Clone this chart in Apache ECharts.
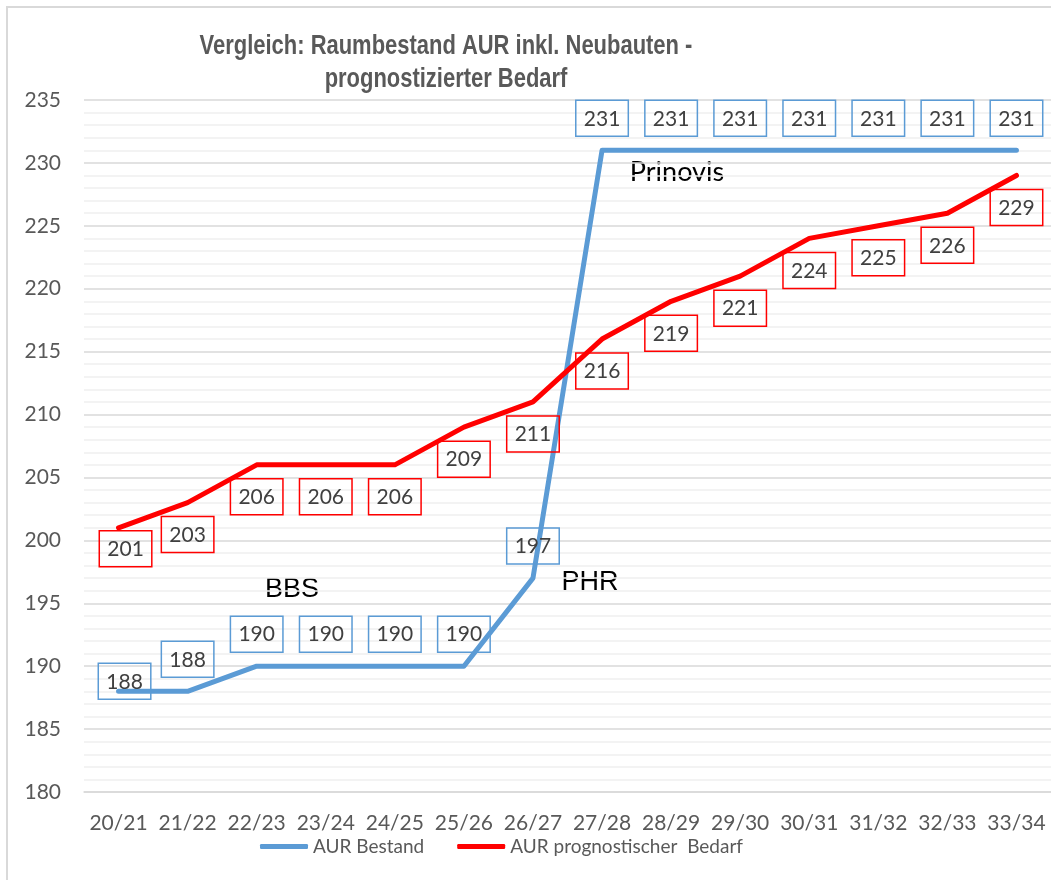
<!DOCTYPE html>
<html lang="de">
<head>
	<meta charset="UTF-8">
	<title>Raumbestand AUR</title>
	<style>
		html, body { margin: 0; padding: 0; background: #fff; }
		#main { width: 1051px; height: 880px; }
	</style>
</head>
<body>
	<div id="main"></div>
	<script src="https://cdn.jsdelivr.net/npm/echarts@6/dist/echarts.min.js"></script>
	<script>
		// Schuljahre
		var years = ['20/21', '21/22', '22/23', '23/24', '24/25', '25/26', '26/27',
			'27/28', '28/29', '29/30', '30/31', '31/32', '32/33', '33/34'];
		// Raumbestand inkl. Neubauten
		var bestand = [188, 188, 190, 190, 190, 190, 197, 231, 231, 231, 231, 231, 231, 231];
		// prognostizierter Bedarf
		var bedarf = [201, 203, 206, 206, 206, 209, 211, 216, 219, 221, 224, 225, 226, 229];
		var yTicks = [180, 185, 190, 195, 200, 205, 210, 215, 220, 225, 230, 235];

		var numFont = 'Lato, "Open Sans", sans-serif';

		var boxLabel = function (color, pos) {
			return {
				show: true,
				position: pos,
				distance: 14,
				color: '#404040',
				fontFamily: numFont,
				fontSize: 21,
				lineHeight: 25,
				padding: [6, 8, 5, 8],
				borderColor: color,
				borderWidth: 1.5
			};
		};

		// erste Beschriftungen wurden im Original von Hand verschoben
		var bestandData = bestand.map(function (v, i) {
			if (i === 0) return { value: v, label: { offset: [6, 22] } };
			return v;
		});
		var bedarfData = bedarf.map(function (v, i) {
			if (i === 0) return { value: v, label: { offset: [7, -11] } };
			return v;
		});

		var myChart = echarts.init(document.getElementById('main'));
		var option = {
			animation: false,
			grid: { left: 84, top: 100, width: 971, height: 692 },
			legend: {
				left: 255,
				top: 832,
				itemWidth: 48,
				itemHeight: 5,
				itemGap: 33,
				icon: 'roundRect',
				textStyle: { color: '#595959', fontFamily: numFont, fontSize: 19 },
				data: ['AUR Bestand', 'AUR prognostischer  Bedarf']
			},
			xAxis: {
				type: 'category',
				data: years,
				axisLine: { lineStyle: { color: '#d9d9d9', width: 1.5 } },
				axisTick: { show: false },
				axisLabel: { interval: 0, color: '#595959', fontFamily: numFont, fontSize: 21, margin: 21 }
			},
			yAxis: {
				type: 'value',
				min: yTicks[0],
				max: yTicks[yTicks.length - 1],
				interval: 5,
				axisLine: { show: false },
				axisTick: { show: false },
				axisLabel: { color: '#595959', fontFamily: numFont, fontSize: 21, margin: 23 },
				splitLine: { lineStyle: { color: '#d9d9d9', width: 1.5 } },
				minorTick: { show: false, splitNumber: 5 },
				minorSplitLine: { show: true, lineStyle: { color: '#f0f0f0', width: 1.5 } }
			},
			series: [
				{
					name: 'AUR Bestand',
					type: 'line',
					data: bestandData,
					symbol: 'circle',
					symbolSize: 0,
					color: '#5b9bd5',
					lineStyle: { width: 5, cap: 'round', join: 'round' },
					label: boxLabel('#5b9bd5', 'top')
				},
				{
					name: 'AUR prognostischer  Bedarf',
					type: 'line',
					data: bedarfData,
					symbol: 'circle',
					symbolSize: 0,
					color: '#ff0000',
					lineStyle: { width: 5, cap: 'round', join: 'round' },
					label: boxLabel('#ff0000', 'bottom')
				}
			],
			graphic: [
				{
					type: 'rect',
					silent: true,
					shape: { x: 7, y: 7, width: 1100, height: 1000 },
					style: { fill: 'none', stroke: '#d9d9d9', lineWidth: 2 }
				},
				{
					type: 'text',
					x: 446, y: 30,
					scaleX: 0.813,
					style: {
						text: 'Vergleich: Raumbestand AUR inkl. Neubauten -\nprognostizierter Bedarf',
						align: 'center',
						fill: '#595959',
						font: 'bold 27px "Liberation Sans", Arial, sans-serif',
						lineHeight: 33
					}
				},
				{
					type: 'text', x: 292, y: 590,
					style: { text: 'BBS', align: 'center', verticalAlign: 'middle', fill: '#000',
						font: '27px "Liberation Sans", Arial, sans-serif' }
				},
				{
					type: 'text', x: 590, y: 583,
					style: { text: 'PHR', align: 'center', verticalAlign: 'middle', fill: '#000',
						font: '27px "Liberation Sans", Arial, sans-serif' }
				},
				{
					type: 'text', x: 677, y: 172,
					style: { text: 'Prinovis', align: 'center', verticalAlign: 'middle', fill: '#000',
						font: '27px Lato, sans-serif' }
				}
			]
		};
		myChart.setOption(option);
	</script>
</body>
</html>
